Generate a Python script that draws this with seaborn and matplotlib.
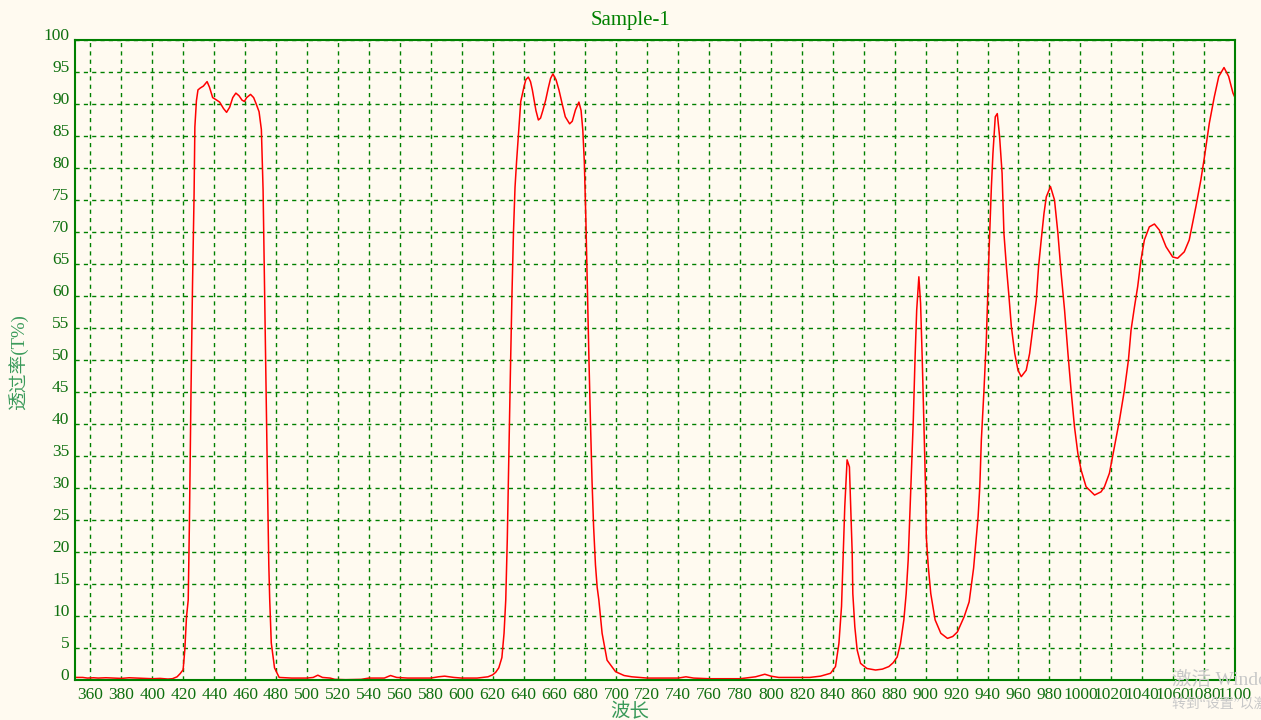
import matplotlib
matplotlib.use("Agg")
import matplotlib.pyplot as plt
import matplotlib.transforms as mtransforms
import seaborn as sns
import pandas as pd

# ---- data ----
wavelength = [
    350, 355, 358, 362, 365, 370, 375, 380, 385, 390, 395, 400, 405, 410, 413, 416, 418,
    419.9, 421, 422.1, 423.2, 424, 425, 426, 427, 427.5, 428.5, 429.5, 431, 433, 435.4, 437,
    439, 441, 443.5, 446, 448, 450, 452, 454, 456, 458, 459.5, 461, 463.5, 465.5, 467, 469,
    470.5, 471.6, 472.5, 473.5, 474.5, 475.3, 475.9, 476.9, 479, 482, 490, 500, 504, 507,
    510, 515, 518, 525, 535, 540, 545, 550, 554, 558, 565, 575, 580, 585, 589, 595, 600,
    610, 617, 620, 622, 624, 626, 627.4, 628.5, 629.5, 630.5, 631.5, 632.5, 633.5, 634.5,
    635.5, 636.5, 638.2, 640.3, 641.5, 643.1, 644.5, 645.7, 648, 649.6, 651, 652.5, 654.3,
    656, 657.5, 659, 661, 662.9, 665, 667, 669.8, 671.5, 673.6, 675.8, 677.2, 678.3, 679.3,
    680.3, 681.3, 682.3, 683.3, 684.3, 685.3, 686.5, 687.6, 688.7, 690.8, 694, 699.5, 705,
    710, 720, 730, 740, 745, 750, 760, 770, 780, 790, 796, 800, 805, 815, 825, 832, 835,
    838.5, 841.7, 843.9, 845.6, 846.6, 847.7, 849.2, 850.7, 851.6, 852.5, 852.9, 854.2,
    855.7, 857.9, 862, 867.6, 872, 876.2, 879, 881.6, 883.7, 885.9, 887.4, 888.7, 889.8,
    890.9, 892, 893.1, 894.2, 895.6, 896.7, 897.8, 898.9, 900, 900.4, 901.7, 903.3, 906.1,
    909.8, 914.1, 917.5, 920.5, 924.9, 928.1, 931, 933.9, 935, 936, 937.7, 939.2, 939.9,
    941, 941.8, 942.5, 943.5, 945, 946.3, 947.8, 949.4, 950.6, 952.2, 953.7, 955.4, 957.6,
    959.7, 961.8, 965, 967.2, 969.4, 971.5, 973, 974.7, 976.5, 978, 980.7, 983.3, 985.5,
    987.6, 989.8, 992, 994, 996.2, 998.4, 1000.5, 1003.7, 1009.2, 1013.4, 1015.6, 1018.8,
    1022.1, 1025.3, 1028.5, 1031.1, 1032.8, 1035, 1037.1, 1039.2, 1041.4, 1044.6, 1047.9,
    1051.1, 1055.4, 1059.7, 1062.9, 1067.2, 1070.4, 1072.6, 1074.7, 1077.9, 1080.1, 1083.4,
    1086.6, 1089.5, 1092.9, 1095.9, 1098.7, 1100,
]
transmittance = [
    0.4, 0.4, 0.3, 0.35, 0.3, 0.35, 0.3, 0.25, 0.35, 0.3, 0.25, 0.2, 0.25, 0.15, 0.2, 0.5, 1.0,
    1.6, 4.7, 9.9, 12.5, 25, 45, 62, 76, 86.4, 90.5, 92.2, 92.5, 92.8, 93.5, 92.6,
    91.0, 90.7, 90.3, 89.3, 88.7, 89.5, 91.0, 91.7, 91.3, 90.6, 90.4, 91.0, 91.5, 91.0, 90.1, 88.8,
    86.0, 76.6, 62, 45, 30, 18, 12.5, 5.8, 1.9, 0.4, 0.3, 0.3, 0.4, 0.75,
    0.4, 0.3, 0.1, 0.05, 0.1, 0.3, 0.3, 0.3, 0.7, 0.4, 0.3, 0.3, 0.3, 0.5, 0.6, 0.4, 0.3,
    0.3, 0.5, 0.8, 1.2, 1.9, 3.5, 7.3, 12.5, 22, 35, 48, 60, 70, 77,
    81, 84.4, 90.4, 92.7, 93.8, 94.2, 93.5, 92.2, 89.0, 87.5, 87.8, 89.0, 90.6,
    92.5, 94.0, 94.7, 93.8, 92.2, 90.0, 88.0, 86.9, 87.3, 89.1, 90.3, 89.0, 86.0, 81,
    72, 61, 50, 40, 31, 24, 18, 14.5, 12.5, 7.3, 3.1, 1.3, 0.7,
    0.5, 0.3, 0.3, 0.3, 0.5, 0.3, 0.2, 0.2, 0.2, 0.5, 0.9, 0.6, 0.4, 0.4, 0.4, 0.6, 0.8,
    1.05, 2.1, 5.7, 11.5, 18.75, 27.1, 34.4, 33.3, 26.6, 19.8, 13.5, 8.3,
    4.7, 2.6, 1.8, 1.56, 1.7, 2.1, 2.7, 3.6, 5.7, 9.4, 13.5, 18.75, 26,
    33.3, 40.6, 50, 57.8, 63, 58.9, 50, 39.6, 29.2, 22.4, 17.7, 13.5, 9.4,
    7.3, 6.5, 6.8, 7.5, 9.9, 12.2, 17.5, 25.5, 30.2, 37.5, 45.3, 53.1, 58.3,
    67.2, 72.4, 77.1, 82.3, 88.0, 88.5, 84.9, 79.2, 69.8, 64.6, 60.4, 55.2, 51.0,
    48.4, 47.4, 48.4, 51.0, 55.2, 59.4, 64.6, 68.75, 72.9, 75.5, 77.1, 75.0, 69.8,
    63.5, 57.8, 51.0, 45.3, 39.6, 35.4, 32.8, 30.2, 28.9, 29.4, 30.2, 32.3,
    36.5, 40.6, 45.3, 50.0, 54.7, 58.3, 61.5, 65.6, 68.75, 70.8, 71.25,
    70.3, 67.7, 66.1, 65.9, 66.9, 68.75, 71.4, 73.95, 78.1, 81.5, 87.0,
    91.1, 94.3, 95.7, 94.3, 91.7, 91.0,
]
x_ticks = list(range(360, 1101, 20))
y_ticks = list(range(0, 101, 5))
title = "Sample-1"
x_label = "波长"
y_label = "透过率(T%)"

df = pd.DataFrame({"wavelength": wavelength, "T": transmittance})

sns.set_theme(style="white")
plt.rcParams["font.family"] = ["Liberation Serif", "Noto Sans CJK SC", "DejaVu Sans"]

BG = "#FFFAF0"
GREEN = "#008000"
TEXT = "#0F700F"
LABEL = "#3A9A5A"

fig = plt.figure(figsize=(12.61, 7.20), dpi=100, facecolor=BG)
ax = fig.add_axes([75 / 1261, 40 / 720, 1160 / 1261, 640 / 720])
ax.set_facecolor(BG)

sns.lineplot(data=df, x="wavelength", y="T", ax=ax, color="#FF0000",
             linewidth=1.1, sort=False, estimator=None)

ax.set_xlim(350, 1100)
ax.set_ylim(0, 100)
ax.set_xticks(x_ticks)
ax.set_yticks(y_ticks)
ax.set_xticklabels([str(v) for v in x_ticks])
ax.set_yticklabels([str(v) for v in y_ticks])
ax.grid(True, color=GREEN, linestyle=(0, (3, 3)), linewidth=1.0)
for s in ax.spines.values():
    s.set_color(GREEN)
    s.set_linewidth(1.5)
ax.tick_params(axis="both", colors=GREEN, labelcolor=TEXT, labelsize=12.5,
               length=2, width=1, direction="out", pad=2)
ax.tick_params(axis="x", pad=3)
offset = mtransforms.ScaledTranslation(0, 6 / 100, fig.dpi_scale_trans)
for lab in ax.get_yticklabels():
    lab.set_transform(lab.get_transform() + offset)

ax.set_xlabel("")
ax.set_ylabel("")
fig.text(630 / 1261, 1 - 20 / 720, title, ha="center", va="center",
         color=GREEN, fontsize=15)
fig.text(630 / 1261, 1 - 712 / 720, x_label, ha="center", va="center",
         color=LABEL, fontsize=14)
fig.text(18 / 1261, 1 - 362 / 720, y_label, ha="center", va="center",
         color=LABEL, fontsize=13.5, rotation=90)

# screenshot watermark (partially cut off at the right edge, as in the reference)
fig.text(1172 / 1261, 1 - 680 / 720, "激活 Windows", ha="left", va="center",
         color="#C8C8C8", fontsize=14)
fig.text(1172 / 1261, 1 - 704 / 720, "转到“设置”以激活 Windows。", ha="left", va="center",
         color="#C8C8C8", fontsize=10)

fig.savefig("out.png", dpi=100, facecolor=BG)
